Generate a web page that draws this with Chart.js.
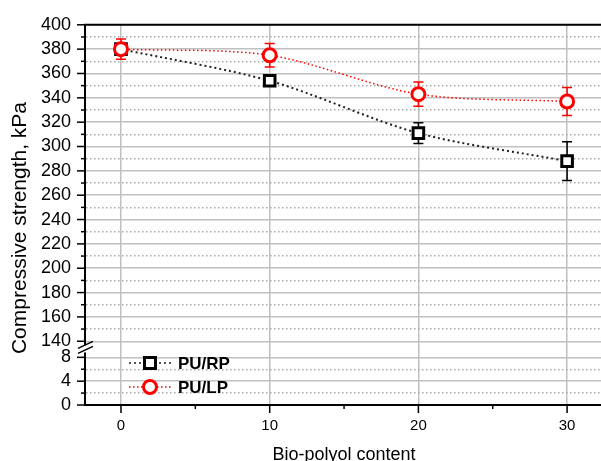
<!DOCTYPE html>
<html>
<head>
<meta charset="utf-8">
<script src="https://cdn.jsdelivr.net/npm/chart.js@4.4.1/dist/chart.umd.min.js"></script>
<style>
    html, body { margin: 0; padding: 0; background: #fff; overflow: hidden; }
    #wrap { width: 601px; height: 461px; }
</style>
</head>
<body>
<div id="wrap"><canvas id="mygraph" width="601" height="461"></canvas></div>
<script>
// bio-polyol content (x) and compressive strength (kPa)
const contents = [0, 10, 20, 30];
const rpValues = [380, 354, 311, 288];
const rpErrors = [3, 3, 8.5, 16];
const lpValues = [380, 375, 343, 337];
const lpErrors = [8.3, 9.7, 10, 11.5];
const xTickLabels = ["0", "10", "20", "30"];
const upperTicks = [140, 160, 180, 200, 220, 240, 260, 280, 300, 320, 340, 360, 380, 400];
const lowerTicks = [0, 4, 8];

const FONT = "'Liberation Sans', Arial, sans-serif";

// error bars, drawn under the markers
const errorBars = {
    id: "errorBars",
    beforeDatasetsDraw(chart) {
        const c = chart.ctx;
        const xs = chart.scales.x;
        const ys = chart.scales.y;
        const sets = [[rpValues, rpErrors, "#000"], [lpValues, lpErrors, "#ff0000"]];
        sets.forEach(function(s) {
            c.save();
            c.strokeStyle = s[2];
            c.lineWidth = 1.5;
            contents.forEach(function(x, i) {
                const px = xs.getPixelForValue(x);
                const top = ys.getPixelForValue(s[0][i] + s[1][i]);
                const bot = ys.getPixelForValue(s[0][i] - s[1][i]);
                c.beginPath();
                c.moveTo(px, top); c.lineTo(px, bot);
                c.moveTo(px - 5, top); c.lineTo(px + 5, top);
                c.moveTo(px - 5, bot); c.lineTo(px + 5, bot);
                c.stroke();
            });
            c.restore();
        });
    }
};

// frame extras: tick marks, top border, axis break, titles, legend
const extras = {
    id: "extras",
    afterDraw(chart) {
        const c = chart.ctx;
        const area = chart.chartArea;
        const xs = chart.scales.x;
        const ys = chart.scales.y;
        const yl = chart.scales.yLow;
        c.save();
        c.strokeStyle = "#000";
        c.lineWidth = 2;
        // top border
        c.beginPath();
        c.moveTo(area.left - 1, area.top);
        c.lineTo(area.right, area.top);
        c.stroke();
        // y ticks
        c.lineWidth = 1.5;
        for (let v = 140; v <= 400; v += 10) {
            const py = ys.getPixelForValue(v);
            const len = v % 20 === 0 ? 8 : 4;
            c.beginPath(); c.moveTo(area.left - len, py); c.lineTo(area.left, py); c.stroke();
        }
        for (let v = 0; v <= 8; v += 2) {
            const py = yl.getPixelForValue(v);
            const len = v % 4 === 0 ? 8 : 4;
            c.beginPath(); c.moveTo(area.left - len, py); c.lineTo(area.left, py); c.stroke();
        }
        // x ticks
        for (let v = 0; v <= 30; v += 5) {
            const px = xs.getPixelForValue(v);
            const len = v % 10 === 0 ? 8 : 4;
            c.beginPath(); c.moveTo(px, area.bottom); c.lineTo(px, area.bottom + len); c.stroke();
        }
        // axis break
        const bk = ys.bottom;
        c.fillStyle = "#fff";
        c.fillRect(area.left - 2, bk - 4, 4, 7);
        c.lineWidth = 1.5;
        c.beginPath();
        c.moveTo(area.left - 7, bk - 1); c.lineTo(area.left + 8, bk - 8);
        c.moveTo(area.left - 7, bk + 4); c.lineTo(area.left + 8, bk - 3);
        c.stroke();
        // titles
        c.fillStyle = "#000";
        c.font = "21px " + FONT;
        c.textAlign = "center";
        c.textBaseline = "middle";
        c.save();
        c.translate(20, 228);
        c.rotate(-Math.PI / 2);
        c.fillText("Compressive strength, kPa", 0, 0);
        c.restore();
        c.font = "18px " + FONT;
        c.fillText("Bio-polyol content", 344, 455);
        // legend
        const rows = [
            { label: "PU/RP", y: 363, color: "#000", line: "#555", dash: [2, 3], shape: "rect" },
            { label: "PU/LP", y: 387, color: "#ff0000", line: "#ff0000", dash: [1.5, 2.5], shape: "circle" }
        ];
        rows.forEach(function(r) {
            c.save();
            c.strokeStyle = r.line;
            c.lineWidth = r.shape === "rect" ? 2 : 1.5;
            c.setLineDash(r.dash);
            c.beginPath(); c.moveTo(129, r.y); c.lineTo(172, r.y); c.stroke();
            c.restore();
            c.save();
            c.fillStyle = "#fff";
            c.strokeStyle = r.color;
            c.lineWidth = 3;
            c.beginPath();
            if (r.shape === "rect") c.rect(150 - 5.5, r.y - 5.5, 11, 11);
            else c.arc(150, r.y, 6.5, 0, Math.PI * 2);
            c.fill(); c.stroke();
            c.restore();
            c.fillStyle = "#000";
            c.font = "bold 17px " + FONT;
            c.textAlign = "left";
            c.fillText(r.label, 178, r.y + 1);
        });
        c.restore();
    }
};

const minorDash = function(step) {
    return function(ctx) {
        if (!ctx.tick) return [];
        return ctx.tick.value % step === 0 ? [] : [1.5, 2.5];
    };
};
const gridColor = function(step) {
    return function(ctx) {
        if (!ctx.tick) return "#c0c0c0";
        return ctx.tick.value % step === 0 ? "#c0c0c0" : "#a8a8a8";
    };
};

var ctx = document.getElementById("mygraph").getContext("2d");

var chart = new Chart(ctx, {
    type: "line",
    data: {
        datasets: [{
            label: "PU/RP",
            data: contents.map((x, i) => ({ x: x, y: rpValues[i] })),
            yAxisID: "y",
            order: 2,
            borderColor: "#222",
            borderWidth: 2,
            borderDash: [2, 3],
            tension: 0.3,
            pointStyle: "rect",
            pointRadius: 7.5,
            pointBorderWidth: 3,
            pointBorderColor: "#000",
            pointBackgroundColor: "#fff",
        }, {
            label: "PU/LP",
            data: contents.map((x, i) => ({ x: x, y: lpValues[i] })),
            yAxisID: "y",
            order: 1,
            borderColor: "#ff0000",
            borderWidth: 1.5,
            borderDash: [1.5, 2.5],
            tension: 0.3,
            pointStyle: "circle",
            pointRadius: 6.5,
            pointBorderWidth: 3,
            pointBorderColor: "#ff0000",
            pointBackgroundColor: "#fff",
        }]
    },
    options: {
        responsive: false,
        devicePixelRatio: 1,
        animation: false,
        layout: { autoPadding: false, padding: { top: 22, right: 0, left: 0, bottom: 0 } },
        plugins: {
            legend: { display: false },
            tooltip: { enabled: false },
        },
        scales: {
            x: {
                type: "linear",
                min: -2.42,
                max: 32.28,
                afterFit: (s) => { s.height = 56; },
                ticks: {
                    stepSize: 5,
                    includeBounds: false,
                    autoSkip: false,
                    maxRotation: 0,
                    padding: 12,
                    color: "#000",
                    font: { family: FONT, size: 15 },
                    callback: (v) => (v % 10 === 0 ? xTickLabels[v / 10] : ""),
                },
                grid: {
                    drawTicks: false,
                    color: (c) => (c.tick && c.tick.value % 10 === 0 ? "#c0c0c0" : "rgba(0,0,0,0)"),
                    lineWidth: 1.5,
                },
                border: { color: "#000", width: 2 },
            },
            yLow: {
                type: "linear",
                position: "left",
                stack: "strength",
                stackWeight: 56,
                min: 0,
                max: 9.33,
                afterFit: (s) => { s.width = 85; },
                ticks: {
                    stepSize: 2,
                    includeBounds: false,
                    autoSkip: false,
                    padding: 14,
                    color: "#000",
                    font: { family: FONT, size: 18 },
                    callback: (v) => (lowerTicks.includes(v) ? String(v) : ""),
                },
                grid: { drawTicks: false, color: gridColor(4), lineWidth: 1.5 },
                border: { color: "#000", width: 2, dash: minorDash(4) },
            },
            y: {
                type: "linear",
                position: "left",
                stack: "strength",
                stackWeight: 327,
                min: 133.3,
                max: 400,
                afterFit: (s) => { s.width = 85; },
                ticks: {
                    stepSize: 10,
                    includeBounds: false,
                    autoSkip: false,
                    padding: 14,
                    color: "#000",
                    font: { family: FONT, size: 18 },
                    callback: (v) => (upperTicks.includes(v) ? String(v) : ""),
                },
                grid: { drawTicks: false, color: gridColor(20), lineWidth: 1.5 },
                border: { color: "#000", width: 2, dash: minorDash(20) },
            },
        },
    },
    plugins: [errorBars, extras],
});
</script>
</body>
</html>
